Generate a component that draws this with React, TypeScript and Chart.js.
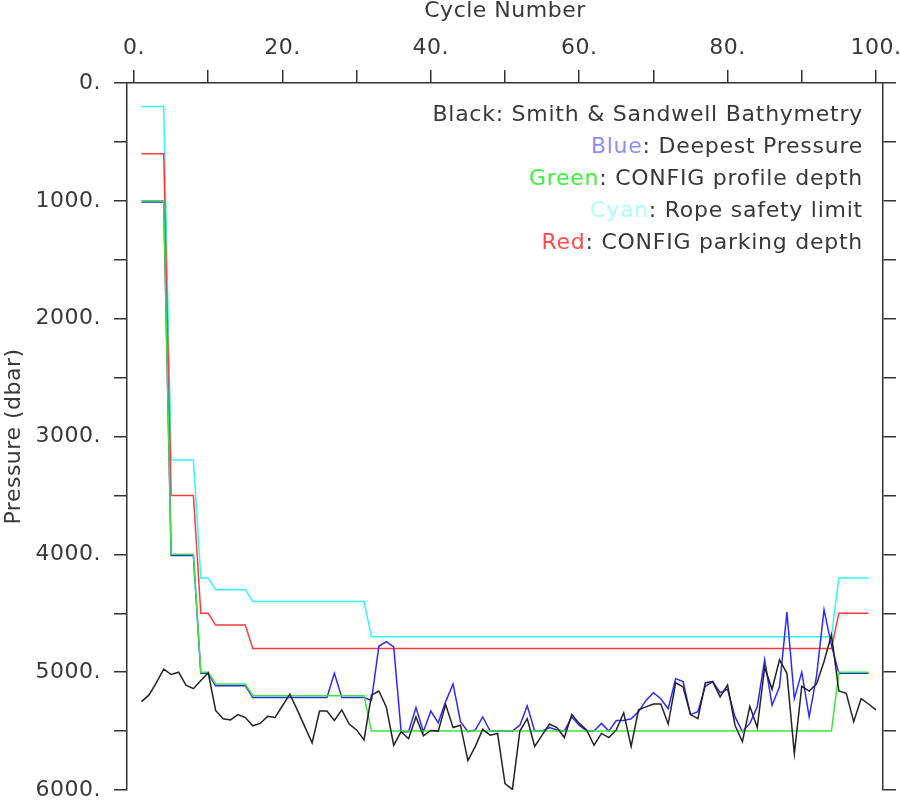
import React, { useEffect, useRef } from "react";
import { Chart, registerables } from "chart.js";

Chart.register(...registerables);

const FONT = "'DejaVu Sans', sans-serif";
const TEXT = "#383838";
const AXIS = "#333333";

const cycles = [
  1, 2, 3, 4, 5, 6, 7, 8, 9, 10, 11, 12, 13, 14, 15, 16, 17, 18, 19, 20,
  21, 22, 23, 24, 25, 26, 27, 28, 29, 30, 31, 32, 33, 34, 35, 36, 37, 38, 39, 40,
  41, 42, 43, 44, 45, 46, 47, 48, 49, 50, 51, 52, 53, 54, 55, 56, 57, 58, 59, 60,
  61, 62, 63, 64, 65, 66, 67, 68, 69, 70, 71, 72, 73, 74, 75, 76, 77, 78, 79, 80,
  81, 82, 83, 84, 85, 86, 87, 88, 89, 90, 91, 92, 93, 94, 95, 96, 97, 98, 99, 100,
];

// Black: Smith & Sandwell bathymetry (cycles 1-100)
const bathymetry = [
  5250, 5195, 5090, 4975, 5020, 5000, 5110, 5140, 5070, 5005,
  5325, 5395, 5405, 5360, 5385, 5455, 5435, 5375, 5385, 5285,
  5187, 5320, 5460, 5600, 5330, 5330, 5410, 5320, 5440, 5490,
  5575, 5195, 5160, 5295, 5620, 5505, 5565, 5380, 5540, 5495,
  5500, 5275, 5470, 5450, 5750, 5630, 5485, 5535, 5520, 5945,
  5995, 5500, 5395, 5630, 5535, 5440, 5470, 5555, 5360, 5435,
  5490, 5620, 5520, 5555, 5490, 5345, 5630, 5320, 5295, 5270,
  5270, 5440, 5090, 5125, 5360, 5395, 5090, 5080, 5210, 5110,
  5450, 5590, 5290, 5470, 4960, 5145, 4895, 5010, 5690, 5120,
  5160, 5100, 4910, 4685, 5160, 5180, 5420, 5225, 5270, 5320,
];

// Blue: deepest pressure (cycles 1-99)
const deepestPressure = [
  1010, 1010, 1010, 1010, 4010, 4010, 4010, 4010, 5010, 5010,
  5115, 5115, 5115, 5115, 5115, 5215, 5215, 5215, 5215, 5215,
  5215, 5215, 5215, 5215, 5215, 5215, 5010, 5215, 5215, 5215,
  5215, 5240, 4780, 4740, 4785, 5505, 5505, 5300, 5505, 5330,
  5430, 5250, 5100, 5420, 5505, 5490, 5380, 5500, 5500, 5500,
  5500, 5450, 5285, 5500, 5500, 5470, 5490, 5500, 5380, 5450,
  5500, 5500, 5435, 5500, 5410, 5410, 5395, 5335, 5240, 5175,
  5225, 5310, 5055, 5080, 5360, 5335, 5120, 5080, 5175, 5145,
  5380, 5505, 5435, 5295, 4895, 5280, 5125, 4490, 5225, 5000,
  5380, 5030, 4470, 4770, 5010, 5010, 5010, 5010, 5010,
];

// Green: CONFIG profile depth (cycles 1-99)
const profileDepth = [
  1000, 1000, 1000, 1000, 4000, 4000, 4000, 4000, 5000, 5000,
  5100, 5100, 5100, 5100, 5100, 5200, 5200, 5200, 5200, 5200,
  5200, 5200, 5200, 5200, 5200, 5200, 5200, 5200, 5200, 5200,
  5200, 5500, 5500, 5500, 5500, 5500, 5500, 5500, 5500, 5500,
  5500, 5500, 5500, 5500, 5500, 5500, 5500, 5500, 5500, 5500,
  5500, 5500, 5500, 5500, 5500, 5500, 5500, 5500, 5500, 5500,
  5500, 5500, 5500, 5500, 5500, 5500, 5500, 5500, 5500, 5500,
  5500, 5500, 5500, 5500, 5500, 5500, 5500, 5500, 5500, 5500,
  5500, 5500, 5500, 5500, 5500, 5500, 5500, 5500, 5500, 5500,
  5500, 5500, 5500, 5500, 5000, 5000, 5000, 5000, 5000,
];

// Cyan: rope safety limit (cycles 1-99)
const ropeSafetyLimit = [
  200, 200, 200, 200, 3200, 3200, 3200, 3200, 4200, 4200,
  4300, 4300, 4300, 4300, 4300, 4400, 4400, 4400, 4400, 4400,
  4400, 4400, 4400, 4400, 4400, 4400, 4400, 4400, 4400, 4400,
  4400, 4700, 4700, 4700, 4700, 4700, 4700, 4700, 4700, 4700,
  4700, 4700, 4700, 4700, 4700, 4700, 4700, 4700, 4700, 4700,
  4700, 4700, 4700, 4700, 4700, 4700, 4700, 4700, 4700, 4700,
  4700, 4700, 4700, 4700, 4700, 4700, 4700, 4700, 4700, 4700,
  4700, 4700, 4700, 4700, 4700, 4700, 4700, 4700, 4700, 4700,
  4700, 4700, 4700, 4700, 4700, 4700, 4700, 4700, 4700, 4700,
  4700, 4700, 4700, 4700, 4200, 4200, 4200, 4200, 4200,
];

// Red: CONFIG parking depth (cycles 1-99)
const parkingDepth = [
  600, 600, 600, 600, 3500, 3500, 3500, 3500, 4500, 4500,
  4600, 4600, 4600, 4600, 4600, 4800, 4800, 4800, 4800, 4800,
  4800, 4800, 4800, 4800, 4800, 4800, 4800, 4800, 4800, 4800,
  4800, 4800, 4800, 4800, 4800, 4800, 4800, 4800, 4800, 4800,
  4800, 4800, 4800, 4800, 4800, 4800, 4800, 4800, 4800, 4800,
  4800, 4800, 4800, 4800, 4800, 4800, 4800, 4800, 4800, 4800,
  4800, 4800, 4800, 4800, 4800, 4800, 4800, 4800, 4800, 4800,
  4800, 4800, 4800, 4800, 4800, 4800, 4800, 4800, 4800, 4800,
  4800, 4800, 4800, 4800, 4800, 4800, 4800, 4800, 4800, 4800,
  4800, 4800, 4800, 4800, 4500, 4500, 4500, 4500, 4500,
];

const xTickValues = [0, 10, 20, 30, 40, 50, 60, 70, 80, 90, 100];
const xTickLabels = ["0.", "", "20.", "", "40.", "", "60.", "", "80.", "", "100."];
const yTickValues = [0, 500, 1000, 1500, 2000, 2500, 3000, 3500, 4000, 4500, 5000, 5500, 6000];
const yTickLabels = ["0.", "", "1000.", "", "2000.", "", "3000.", "", "4000.", "", "5000.", "", "6000."];

const legendPrefixes = ["Black", "Blue", "Green", "Cyan", "Red"];
const legendTexts = [
  ": Smith & Sandwell Bathymetry",
  ": Deepest Pressure",
  ": CONFIG profile depth",
  ": Rope safety limit",
  ": CONFIG parking depth",
];
const legendColors = ["#3a3a3a", "#8c8cff", "#3cf03c", "#a8ffff", "#ff4a4a"];

const toPoints = (values: number[]) => values.map((v, i) => ({ x: cycles[i], y: v }));

const spacingPlugin = {
  id: "letterSpacing",
  beforeInit(chart: any) {
    (chart.ctx as any).letterSpacing = "0.5px";
  },
  beforeDraw(chart: any) {
    (chart.ctx as any).letterSpacing = "0.5px";
  },
};

const legendPlugin = {
  id: "textLegend",
  afterDraw(chart: any) {
    const ctx = chart.ctx as CanvasRenderingContext2D;
    const right = chart.chartArea.right - 20;
    const top = chart.chartArea.top + 32;
    ctx.save();
    (ctx as any).letterSpacing = "0.75px";
    ctx.font = `22px ${FONT}`;
    ctx.textBaseline = "middle";
    ctx.textAlign = "left";
    legendTexts.forEach((rest, i) => {
      const y = top + i * 32;
      const restW = ctx.measureText(rest).width;
      const pre = legendPrefixes[i];
      const preW = ctx.measureText(pre).width;
      ctx.fillStyle = TEXT;
      ctx.fillText(rest, right - restW, y);
      ctx.fillStyle = legendColors[i];
      ctx.fillText(pre, right - restW - preW, y);
    });
    ctx.restore();
  },
};

export default function App() {
  const canvasRef = useRef<HTMLCanvasElement | null>(null);

  useEffect(() => {
    const canvas = canvasRef.current;
    if (!canvas) return;
    const lineDs = (label: string, values: number[], color: string, width = 1.5) => ({
      label,
      data: toPoints(values),
      borderColor: color,
      backgroundColor: color,
      borderWidth: width,
      pointRadius: 0,
      tension: 0,
      fill: false,
      yAxisID: "y",
      xAxisID: "x",
    });
    const tickFont = { family: FONT, size: 22, lineHeight: 1.2 };
    const chart = new Chart(canvas, {
      type: "line",
      data: {
        datasets: [
          lineDs("Smith & Sandwell Bathymetry", bathymetry, "#222222"),
          lineDs("CONFIG profile depth", profileDepth, "#3ce63c"),
          lineDs("Deepest Pressure", deepestPressure, "#2a2aff"),
          lineDs("CONFIG parking depth", parkingDepth, "#ff3a3a"),
          lineDs("Rope safety limit", ropeSafetyLimit, "#30f6f6"),
        ],
      },
      options: {
        responsive: false,
        animation: false,
        events: [],
        layout: { padding: { left: 0, right: 0, top: 0, bottom: 10 } },
        plugins: { legend: { display: false }, tooltip: { enabled: false }, title: { display: false } },
        scales: {
          x: {
            type: "linear",
            position: "top",
            min: -0.95,
            max: 100.95,
            afterBuildTicks: (scale: any) => {
              scale.ticks = xTickValues.map((v) => ({ value: v }));
            },
            afterFit: (scale: any) => {
              scale.height = 83;
              scale.paddingLeft = 0;
              scale.paddingRight = 0;
            },
            grid: { drawOnChartArea: false, drawTicks: true, tickLength: 13, color: AXIS, lineWidth: 1.5 },
            border: { display: true, color: AXIS, width: 1.5 },
            ticks: {
              autoSkip: false,
              maxRotation: 0,
              padding: 9,
              color: TEXT,
              font: tickFont,
              callback: (_v: any, i: number) => xTickLabels[i],
            },
            title: {
              display: true,
              text: "Cycle Number",
              color: TEXT,
              font: { family: FONT, size: 22, lineHeight: 1.0 },
              padding: { top: 0, bottom: 0 },
            },
          },
          y: {
            type: "linear",
            position: "left",
            reverse: true,
            min: 0,
            max: 6000,
            afterBuildTicks: (scale: any) => {
              scale.ticks = yTickValues.map((v) => ({ value: v }));
            },
            afterFit: (scale: any) => {
              scale.width = 127;
              scale.paddingTop = 0;
              scale.paddingBottom = 0;
            },
            grid: { drawOnChartArea: false, drawTicks: true, tickLength: 13, color: AXIS, lineWidth: 1.5 },
            border: { display: true, color: AXIS, width: 1.5 },
            ticks: {
              autoSkip: false,
              padding: 13,
              color: TEXT,
              font: tickFont,
              callback: (_v: any, i: number) => yTickLabels[i],
            },
            title: {
              display: true,
              text: "Pressure (dbar)",
              color: TEXT,
              font: { family: FONT, size: 22, lineHeight: 1.2 },
              padding: { top: 1, bottom: 0 },
            },
          },
          y2: {
            type: "linear",
            position: "right",
            reverse: true,
            min: 0,
            max: 6000,
            afterBuildTicks: (scale: any) => {
              scale.ticks = yTickValues.map((v) => ({ value: v }));
            },
            afterFit: (scale: any) => {
              scale.width = 17;
              scale.paddingTop = 0;
              scale.paddingBottom = 0;
            },
            grid: { drawOnChartArea: false, drawTicks: true, tickLength: 13, color: AXIS, lineWidth: 1.5 },
            border: { display: true, color: AXIS, width: 1.5 },
            ticks: { autoSkip: false, padding: 0, font: tickFont, callback: () => "" },
          },
        },
      },
      plugins: [spacingPlugin, legendPlugin],
    } as any);
    return () => chart.destroy();
  }, []);

  return (
    <div style={{ position: "absolute", left: 0, top: 0, width: 900, height: 800, background: "#ffffff" }}>
      <canvas ref={canvasRef} width={900} height={800} style={{ display: "block", width: 900, height: 800 }} />
    </div>
  );
}
